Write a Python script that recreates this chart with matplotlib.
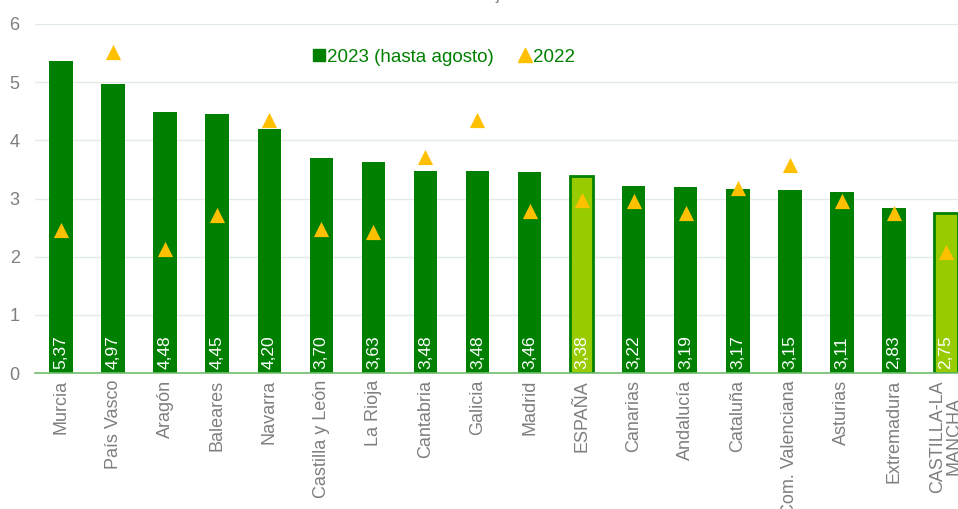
import matplotlib.pyplot as plt
from matplotlib.lines import Line2D

plt.rcParams["font.family"] = ["Liberation Sans", "DejaVu Sans"]

regiones = ["Murcia", "País Vasco", "Aragón", "Baleares", "Navarra",
            "Castilla y León", "La Rioja", "Cantabria", "Galicia", "Madrid",
            "ESPAÑA", "Canarias", "Andalucía", "Cataluña", "Com. Valenciana",
            "Asturias", "Extremadura", "CASTILLA-LA\nMANCHA"]
valores_2023 = [5.37, 4.97, 4.48, 4.45, 4.20, 3.70, 3.63, 3.48, 3.48, 3.46,
                3.38, 3.22, 3.19, 3.17, 3.15, 3.11, 2.83, 2.75]
valores_2022 = [2.46, 5.52, 2.14, 2.72, 4.35, 2.47, 2.42, 3.72, 4.35, 2.78,
                2.98, 2.96, 2.75, 3.18, 3.58, 2.96, 2.75, 2.08]
destacadas = ["ESPAÑA", "CASTILLA-LA\nMANCHA"]

VERDE = "#008000"
VERDE_CLARO = "#99CC00"
AMARILLO = "#FFC000"
GRIS = "#7F7F7F"

fig = plt.figure(figsize=(9.58, 5.09), dpi=100)
ax = fig.add_axes([35 / 958, 1 - 373 / 509, 923 / 958, 349 / 509])

x = list(range(len(regiones)))
colores = [VERDE_CLARO if r in destacadas else VERDE for r in regiones]
ax.bar(x, valores_2023, width=0.45, color=colores, edgecolor=VERDE,
       linewidth=[2 if r in destacadas else 0 for r in regiones], zorder=2)
ax.scatter(x, valores_2022, marker="^", s=120, color=AMARILLO, zorder=3,
           linewidths=0)

for xi, v in zip(x, valores_2023):
    ax.text(xi, 0.07, f"{v:.2f}".replace(".", ","), rotation=90,
            ha="center", va="bottom", color="white", fontsize=12.5, zorder=4)

ax.set_xlim(-0.5, 17.23)
ax.set_ylim(0, 6)
ax.set_yticks(range(7))
ax.set_xticks(x)
ax.set_xticklabels(regiones, rotation=90, ha="center", va="top",
                   multialignment="center", linespacing=0.95)
ax.tick_params(axis="both", length=0, colors=GRIS, labelsize=13)
ax.tick_params(axis="x", pad=5)
ax.tick_params(axis="y", pad=11)
ax.grid(axis="y", color="#E3ECE3", linewidth=1, zorder=0)
for s in ["top", "right", "left"]:
    ax.spines[s].set_visible(False)
ax.spines["bottom"].set_color("#6DBF6D")
ax.spines["bottom"].set_linewidth(1.2)

handles = [
    Line2D([], [], marker="s", color=VERDE, linestyle="none", markersize=8),
    Line2D([], [], marker="^", color=AMARILLO, linestyle="none", markersize=9.5),
]
leg = fig.legend(handles, ["2023 (hasta agosto)", "2022"], loc="center",
                 bbox_to_anchor=(443 / 958, 1 - 57 / 509), ncol=2, frameon=False,
                 fontsize=13.5, handletextpad=0.0, columnspacing=1.2,
                 handlelength=0.9)
for t in leg.get_texts():
    t.set_color(VERDE)

fig.text(0.495, 1.008, "Porcentajes", ha="center", va="center",
         color=GRIS, fontsize=12)

fig.savefig("out.png", dpi=100)
